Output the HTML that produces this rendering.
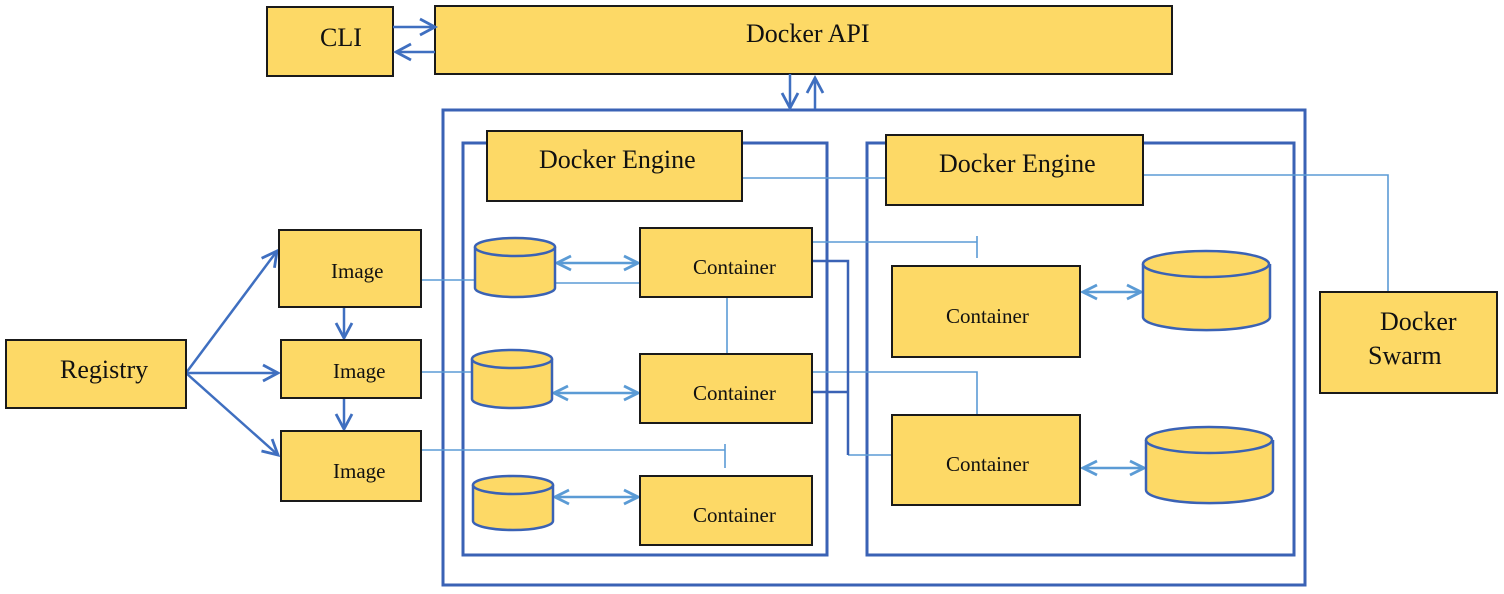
<!DOCTYPE html>
<html><head><style>body{margin:0;background:#fff}svg{display:block}</style></head><body>
<svg width="1504" height="594" xmlns="http://www.w3.org/2000/svg" font-family="Liberation Serif, serif">
<defs>
<marker id="a" markerWidth="20" markerHeight="20" refX="17" refY="10" orient="auto-start-reverse" markerUnits="userSpaceOnUse"><path d="M2,2 L17,10 L2,18" fill="none" stroke="#3f6fc0" stroke-width="2.8"/></marker>
<marker id="b" markerWidth="20" markerHeight="20" refX="17" refY="10" orient="auto-start-reverse" markerUnits="userSpaceOnUse"><path d="M3,3 L17,10 L3,17" fill="none" stroke="#5b9bd5" stroke-width="2.8"/></marker>
</defs>
<g fill="#fdd966" stroke="#1a1a1a" stroke-width="2">
<rect x="267" y="7" width="126" height="69"/>
<rect x="435" y="6" width="737" height="68"/>
</g>
<g fill="none" stroke="#3a62b5" stroke-width="3">
<rect x="443" y="110" width="862" height="475"/>
<path d="M487,143 H463 V555 H827 V143 H742"/>
<path d="M886,143 H867 V555 H1294 V143 H1143"/>
</g>
<g fill="none" stroke="#5b9bd5" stroke-width="1.6">
<path d="M742,178 H886"/>
<path d="M1143,175 H1388 V292"/>
<path d="M421,280 H475 M555,283 H640"/>
<path d="M421,372 H472"/>
<path d="M421,450 H725 M725,444 V468"/>
<path d="M727,297 V354"/>
<path d="M812,242 H977 M977,236 V258"/>
<path d="M812,372 H977 V415"/>
<path d="M848,455 H892"/>
</g>
<g fill="none" stroke="#3a62b5" stroke-width="2.5">
<path d="M812,261 H848 V455"/>
<path d="M812,392 H848"/>
</g>
<g fill="none" stroke="#3f6fc0" stroke-width="2.5">
<path d="M393,27 H435" marker-end="url(#a)"/>
<path d="M435,52 H396" marker-end="url(#a)"/>
<path d="M790,74 V108" marker-end="url(#a)"/>
<path d="M815,109 V78" marker-end="url(#a)"/>
<path d="M186,373 L277,251" marker-end="url(#a)"/>
<path d="M186,373 H278" marker-end="url(#a)"/>
<path d="M186,373 L278,455" marker-end="url(#a)"/>
<path d="M344,307 V338" marker-end="url(#a)"/>
<path d="M344,398 V429" marker-end="url(#a)"/>
</g>
<g fill="none" stroke="#5b9bd5" stroke-width="2.5">
<path d="M557,263 H638" marker-start="url(#b)" marker-end="url(#b)"/>
<path d="M554,393 H638" marker-start="url(#b)" marker-end="url(#b)"/>
<path d="M555,497 H638" marker-start="url(#b)" marker-end="url(#b)"/>
<path d="M1083,292 H1141" marker-start="url(#b)" marker-end="url(#b)"/>
<path d="M1083,468 H1144" marker-start="url(#b)" marker-end="url(#b)"/>
</g>
<g fill="#fdd966" stroke="#1a1a1a" stroke-width="2">
<rect x="487" y="131" width="255" height="70"/>
<rect x="886" y="135" width="257" height="70"/>
<rect x="6" y="340" width="180" height="68"/>
<rect x="279" y="230" width="142" height="77"/>
<rect x="281" y="340" width="140" height="58"/>
<rect x="281" y="431" width="140" height="70"/>
<rect x="640" y="228" width="172" height="69"/>
<rect x="640" y="354" width="172" height="69"/>
<rect x="640" y="476" width="172" height="69"/>
<rect x="892" y="266" width="188" height="91"/>
<rect x="892" y="415" width="188" height="90"/>
<rect x="1320" y="292" width="177" height="101"/>
</g>
<g fill="#fdd966" stroke="#3a62b5" stroke-width="2.5">
<path d="M475,247 V288 A40,9 0 0 0 555,288 V247"/><ellipse cx="515" cy="247" rx="40" ry="9"/>
<path d="M472,359 V399 A40,9 0 0 0 552,399 V359"/><ellipse cx="512" cy="359" rx="40" ry="9"/>
<path d="M473,485 V521 A40,9 0 0 0 553,521 V485"/><ellipse cx="513" cy="485" rx="40" ry="9"/>
<path d="M1143,264 V317 A63,13 0 0 0 1270,317 V264"/><ellipse cx="1206" cy="264" rx="63" ry="13"/>
<path d="M1146,440 V490 A63,13 0 0 0 1273,490 V440"/><ellipse cx="1209" cy="440" rx="63" ry="13"/>
</g>
<g fill="#111" font-size="26">
<text x="320" y="46">CLI</text>
<text x="746" y="42">Docker API</text>
<text x="539" y="168">Docker Engine</text>
<text x="939" y="172">Docker Engine</text>
<text x="60" y="378">Registry</text>
<text x="1380" y="330">Docker</text>
<text x="1368" y="364">Swarm</text>
</g>
<g fill="#111" font-size="21">
<text x="331" y="278">Image</text>
<text x="333" y="378">Image</text>
<text x="333" y="478">Image</text>
<text x="693" y="274">Container</text>
<text x="693" y="400">Container</text>
<text x="693" y="522">Container</text>
<text x="946" y="323">Container</text>
<text x="946" y="471">Container</text>
</g>
</svg>
</body></html>
